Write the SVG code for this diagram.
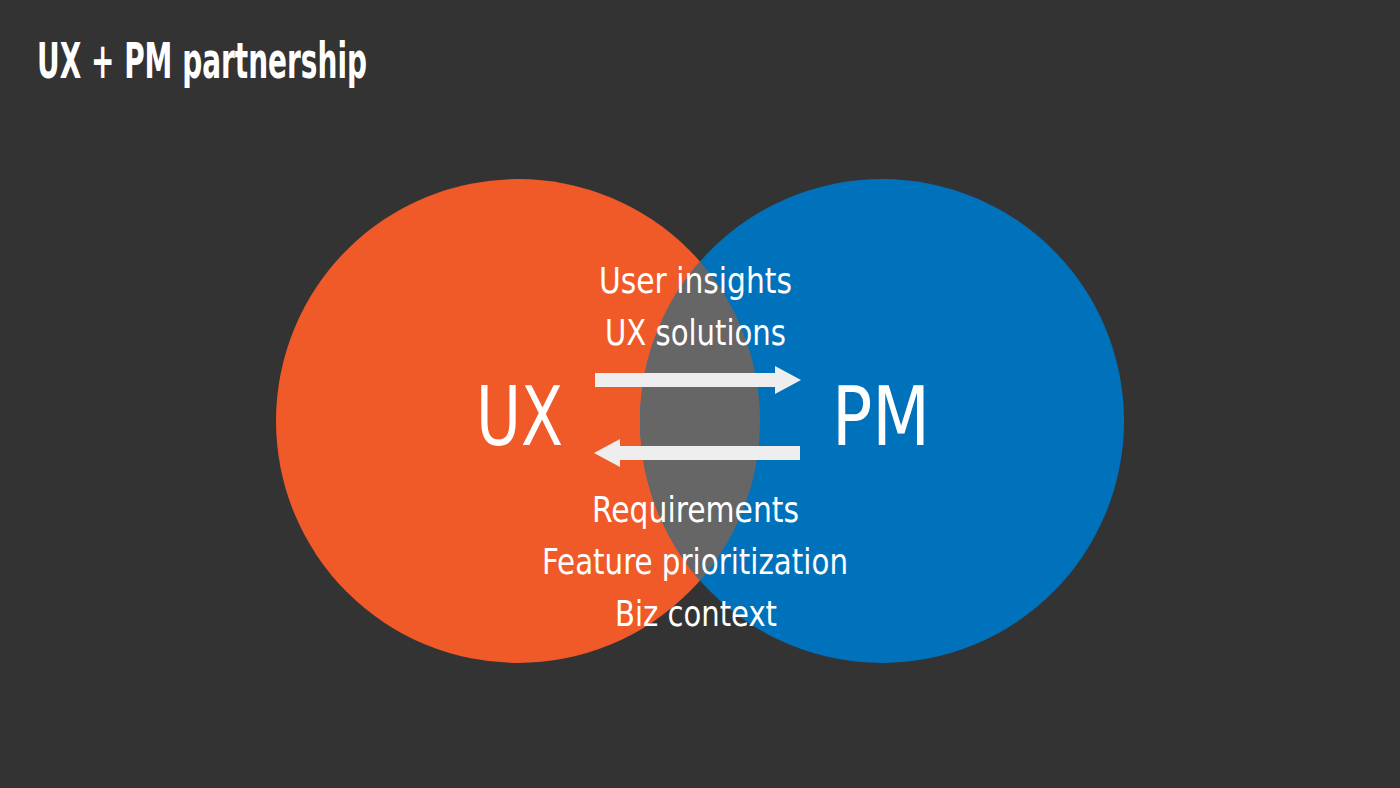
<svg xmlns="http://www.w3.org/2000/svg" width="1400" height="788" viewBox="0 0 1400 788">
<defs>
<style>
.t{font-family:"DejaVu Sans","Liberation Sans",sans-serif;font-stretch:condensed;fill:#fff}
.l{font-size:36px}
.big{font-size:82px}
</style>
<clipPath id="cl"><circle cx="518" cy="421" r="242"/></clipPath>
</defs>
<rect width="1400" height="788" fill="#333"/>
<text class="t" x="37" y="78" font-size="50" font-weight="bold" textLength="330" lengthAdjust="spacingAndGlyphs">UX + PM partnership</text>
<g id="ux"><circle cx="518" cy="421" r="242" fill="#f05a28"/></g>
<g id="pm"><circle cx="882" cy="421" r="242" fill="#0072bc"/></g>
<g id="overlap"><circle cx="882" cy="421" r="242" fill="#666" clip-path="url(#cl)"/></g>
<text class="t big" x="476" y="445" textLength="87" lengthAdjust="spacingAndGlyphs">UX</text>
<text class="t big" x="832" y="445" textLength="98" lengthAdjust="spacingAndGlyphs">PM</text>
<g id="connectors" fill="#eee">
<polygon points="595,373 775,373 775,366 801,380 775,394 775,387 595,387"/>
<polygon points="800,446 620,446 620,439 594,453 620,467 620,460 800,460"/>
</g>
<g class="t l">
<text x="599" y="293" textLength="193" lengthAdjust="spacingAndGlyphs">User insights</text>
<text x="605" y="345" textLength="181" lengthAdjust="spacingAndGlyphs">UX solutions</text>
<text x="592" y="522" textLength="207" lengthAdjust="spacingAndGlyphs">Requirements</text>
<text x="542" y="574" textLength="306" lengthAdjust="spacingAndGlyphs">Feature prioritization</text>
<text x="615" y="626" textLength="162" lengthAdjust="spacingAndGlyphs">Biz context</text>
</g>
</svg>
